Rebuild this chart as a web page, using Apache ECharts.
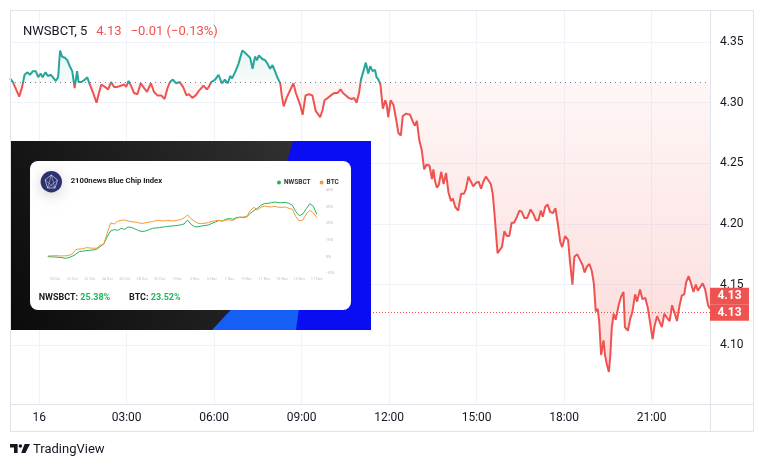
<!DOCTYPE html>
<html>
<head>
<meta charset="utf-8">
<script src="https://cdn.jsdelivr.net/npm/echarts@6/dist/echarts.min.js"></script>
<style>
  html, body { margin: 0; padding: 0; background: #fff; }
  #chart { width: 757px; height: 457px; }
</style>
</head>
<body>
<div id="chart"></div>
<script>
// NWSBCT 5-minute bars, minutes from midnight of the 16th
const minutes = [
  -60, -54, -41, -35, -30, -24, -19, -13, -7, -2,
  3, 7, 13, 18, 24, 28, 34, 39, 43, 47,
  53, 58, 63, 68, 73, 78, 81, 87, 94, 99,
  104, 111, 118, 123, 128, 135, 142, 148, 154, 161,
  168, 175, 179, 184, 190, 195, 202, 209, 216, 222,
  230, 236, 243, 251, 258, 264, 269, 275, 282, 289,
  296, 303, 308, 315, 322, 329, 338, 345, 349, 354,
  362, 369, 376, 382, 388, 393, 397, 404, 410, 415,
  418, 424, 429, 434, 439, 444, 448, 452, 459, 465,
  470, 475, 480, 485, 491, 496, 499, 503, 509, 516,
  523, 528, 537, 542, 548, 555, 562, 569, 573, 578,
  583, 587, 594, 600, 607, 614, 620, 625, 631, 636,
  643, 648, 653, 658, 662, 667, 672, 677, 681, 686,
  691, 694, 698, 702, 707, 712, 715, 718, 723, 729,
  734, 739, 744, 748, 755, 763, 769, 773, 777, 782,
  787, 792, 797, 803, 808, 811, 814, 818, 822, 827,
  832, 837, 842, 847, 851, 856, 862, 868, 874, 878,
  883, 888, 893, 899, 904, 909, 914, 919, 924, 929,
  933, 937, 940, 943, 947, 952, 957, 962, 967, 972,
  977, 983, 988, 993, 998, 1004, 1011, 1017, 1022, 1027,
  1032, 1036, 1041, 1046, 1051, 1057, 1062, 1067, 1072, 1076,
  1082, 1088, 1092, 1097, 1101, 1107, 1113, 1118, 1122, 1127,
  1132, 1137, 1141, 1145, 1149, 1152, 1156, 1161, 1164, 1168,
  1172, 1175, 1178, 1182, 1186, 1192, 1197, 1202, 1205, 1211,
  1216, 1220, 1226, 1230, 1236, 1241, 1247, 1252, 1257, 1262,
  1266, 1271, 1275, 1281, 1286, 1291, 1297, 1302, 1306, 1312,
  1317, 1322, 1327, 1331, 1336, 1341, 1346, 1351, 1355, 1360,
  1365, 1370, 1376, 1380
];
const prices = [
  4.320, 4.317, 4.305, 4.313, 4.323, 4.325, 4.323, 4.326, 4.326, 4.321,
  4.324, 4.321, 4.325, 4.322, 4.323, 4.321, 4.318, 4.321, 4.343, 4.338,
  4.337, 4.335, 4.330, 4.326, 4.312, 4.326, 4.317, 4.317, 4.319, 4.321,
  4.315, 4.308, 4.300, 4.308, 4.315, 4.313, 4.311, 4.317, 4.313, 4.313,
  4.314, 4.315, 4.313, 4.318, 4.313, 4.308, 4.307, 4.316, 4.312, 4.309,
  4.316, 4.309, 4.306, 4.306, 4.303, 4.312, 4.317, 4.319, 4.316, 4.317,
  4.313, 4.306, 4.307, 4.304, 4.306, 4.310, 4.314, 4.311, 4.313, 4.317,
  4.319, 4.323, 4.316, 4.319, 4.316, 4.322, 4.320, 4.326, 4.332, 4.339,
  4.343, 4.341, 4.339, 4.337, 4.328, 4.338, 4.335, 4.339, 4.336, 4.335,
  4.332, 4.328, 4.331, 4.326, 4.320, 4.316, 4.306, 4.297, 4.304, 4.310,
  4.316, 4.308, 4.298, 4.290, 4.306, 4.307, 4.306, 4.293, 4.291, 4.288,
  4.294, 4.302, 4.304, 4.306, 4.308, 4.308, 4.311, 4.308, 4.306, 4.304,
  4.303, 4.304, 4.300, 4.308, 4.319, 4.326, 4.333, 4.324, 4.330, 4.326,
  4.327, 4.321, 4.319, 4.315, 4.295, 4.302, 4.298, 4.288, 4.302, 4.298,
  4.287, 4.275, 4.273, 4.289, 4.291, 4.290, 4.284, 4.281, 4.285, 4.269,
  4.261, 4.245, 4.249, 4.248, 4.237, 4.245, 4.236, 4.230, 4.232, 4.243,
  4.233, 4.242, 4.226, 4.219, 4.221, 4.214, 4.211, 4.225, 4.225, 4.229,
  4.239, 4.235, 4.231, 4.234, 4.235, 4.229, 4.235, 4.239, 4.236, 4.233,
  4.225, 4.207, 4.191, 4.176, 4.175, 4.181, 4.194, 4.190, 4.190, 4.201,
  4.201, 4.206, 4.211, 4.210, 4.205, 4.205, 4.212, 4.208, 4.203, 4.203,
  4.211, 4.206, 4.214, 4.216, 4.210, 4.209, 4.213, 4.200, 4.185, 4.181,
  4.190, 4.187, 4.169, 4.150, 4.173, 4.175, 4.170, 4.166, 4.160, 4.165,
  4.167, 4.161, 4.151, 4.128, 4.130, 4.120, 4.092, 4.104, 4.092, 4.084,
  4.078, 4.092, 4.115, 4.126, 4.121, 4.133, 4.140, 4.144, 4.115, 4.112,
  4.122, 4.127, 4.142, 4.136, 4.146, 4.138, 4.139, 4.131, 4.118, 4.105,
  4.116, 4.124, 4.125, 4.115, 4.126, 4.123, 4.120, 4.133, 4.128, 4.120,
  4.132, 4.141, 4.142, 4.152, 4.157, 4.151, 4.144, 4.150, 4.145, 4.148,
  4.151, 4.146, 4.133, 4.130
];
const baseValue = 4.3165;
const priceLine = 4.127;
const lastLabel = '4.13';
const yTicks = [4.10, 4.15, 4.20, 4.25, 4.30, 4.35];
const xTicks = [0, 180, 360, 540, 720, 900, 1080, 1260];
const xTickLabels = ['16', '03:00', '06:00', '09:00', '12:00', '15:00', '18:00', '21:00'];

// inset screenshot: 2100news Blue Chip Index, % change
const miniNwsbct = [
  0, -0.1, -0.2, -0.4, -0.6, -1.0, -0.6, 0.2, 1.4, 3.0,
  3.3, 3.6, 3.8, 4.0, 4.4, 6.0, 7.6, 12.0, 15.4, 16.2,
  15.8, 17.0, 16.4, 17.8, 17.5, 16.6, 15.6, 15.1, 15.4, 16.2,
  17.0, 17.2, 17.5, 17.8, 18.1, 18.3, 18.5, 18.7, 19.1, 19.6,
  22.0, 19.4, 18.0, 17.9, 18.4, 18.7, 19.0, 20.0, 20.8, 21.7,
  21.4, 22.4, 22.9, 22.4, 23.5, 23.7, 23.4, 24.0, 26.0, 27.6,
  29.0, 30.8, 31.8, 32.0, 32.4, 32.8, 32.4, 32.4, 32.6, 32.0,
  30.8, 27.0, 24.6, 25.6, 28.8, 31.8, 30.2, 25.4
];
const miniBtc = [
  0.4, 0.5, 0.6, 0.5, 0.4, 0.5, 0.7, 1.6, 4.2, 4.6,
  4.7, 5.4, 5.2, 5.0, 5.1, 6.8, 7.4, 14.0, 20.2, 19.6,
  21.2, 21.8, 22.0, 21.4, 21.0, 20.7, 20.3, 19.9, 20.4, 20.7,
  21.0, 21.6, 21.6, 21.4, 21.7, 21.6, 21.4, 21.8, 22.3, 23.2,
  25.0, 22.8, 21.2, 20.0, 19.8, 20.1, 20.4, 21.2, 21.6, 21.8,
  21.4, 22.0, 22.1, 21.8, 23.0, 23.6, 23.8, 24.3, 27.8, 29.6,
  28.0, 29.6, 30.4, 30.0, 29.8, 30.2, 29.6, 29.6, 29.8, 29.0,
  28.4, 24.0, 21.4, 22.0, 25.6, 27.8, 26.2, 23.5
];
const miniDateTicks = [2, 4, 6, 8, 10, 12, 14, 16, 18, 20, 22, 24, 26, 28, 30, 32];
const miniDateLabels = ['18 Oct', '20 Oct', '22 Oct', '24 Oct', '26 Oct', '28 Oct', '30 Oct', '1 Nov',
  '3 Nov', '5 Nov', '7 Nov', '9 Nov', '11 Nov', '13 Nov', '15 Nov', '17 Nov'];
const miniTotals = { NWSBCT: '25.38%', BTC: '23.52%' };

const UP = '#26a69a';
const DOWN = '#ef5350';
const FONT = 'Roboto, "Liberation Sans", sans-serif';

const mainData = minutes.map((m, i) => [m, prices[i]]);
const miniDays = miniNwsbct.map((_, i) => +(1.2 + i * 0.4).toFixed(1));

// gradient stops in the area's own box: top = max price, bottom = min price
const pMax = Math.max(...prices, baseValue);
const pMin = Math.min(...prices, baseValue);
const baseOff = (pMax - baseValue) / (pMax - pMin);

const chart = echarts.init(document.getElementById('chart'), null, { renderer: 'canvas' });

chart.setOption({
  backgroundColor: '#ffffff',
  animation: false,
  textStyle: { fontFamily: FONT },
  title: {
    left: 18, top: 18,
    text: '{s|NWSBCT, 5}  {r|4.13}  {r|\u22120.01 (\u22120.13%)}',
    textStyle: {
      fontWeight: 'normal',
      rich: {
        s: { fontSize: 13, color: '#131722', fontFamily: FONT, fontWeight: 'normal' },
        r: { fontSize: 13, color: DOWN, fontFamily: FONT, fontWeight: 'normal' },
      },
    },
  },
  legend: {
    data: ['NWSBCT', 'BTC'],
    left: 277, top: 179,
    icon: 'circle', itemWidth: 4, itemHeight: 4, itemGap: 9, padding: 0,
    textStyle: { fontSize: 6.5, fontWeight: 'bold', color: '#333', padding: [0, 0, 0, -2] },
    z: 120,
  },
  visualMap: {
    show: false, type: 'piecewise', seriesIndex: 0, dimension: 1,
    pieces: [
      { gt: baseValue, lte: 10, color: UP },
      { gt: 0, lte: baseValue, color: DOWN },
    ],
  },
  grid: [
    { left: 10, right: 47, top: 10, bottom: 53 },
    { left: 47.8, top: 190, width: 269, height: 83.3, z: 110 },
  ],
  xAxis: [
    {
      type: 'value', min: -60, max: 1380,
      axisLine: { show: false },
      axisTick: { show: false, customValues: xTicks },
      axisLabel: {
        customValues: xTicks, margin: 8, fontSize: 12, color: '#131722',
        formatter: v => xTickLabels[xTicks.indexOf(v)] ?? '',
      },
      splitLine: { show: true, lineStyle: { color: '#f0f3fa' } },
    },
    {
      type: 'value', gridIndex: 1, min: 1.2, max: 32, z: 110,
      axisLine: { show: false },
      axisTick: { show: false, customValues: miniDateTicks },
      axisLabel: {
        customValues: miniDateTicks, margin: 4, fontSize: 3.8, color: '#c4c4c4',
        formatter: v => miniDateLabels[miniDateTicks.indexOf(v)] ?? '',
      },
      splitLine: { show: false },
    },
  ],
  yAxis: [
    {
      type: 'value', position: 'right', min: 4.0516, max: 4.3764,
      axisLine: { show: false },
      axisTick: { show: false, customValues: yTicks },
      axisLabel: {
        customValues: yTicks, margin: 10, fontSize: 12, color: '#131722',
        formatter: v => v.toFixed(2),
      },
      splitLine: { show: true, lineStyle: { color: '#f0f3fa' } },
    },
    {
      type: 'value', gridIndex: 1, position: 'right', min: -10, max: 40, interval: 10, z: 110,
      axisLine: { show: false },
      axisTick: { show: false },
      axisLabel: { margin: 9, fontSize: 4, color: '#bdbdbd', formatter: '{value}%' },
      splitLine: { show: false },
    },
  ],
  series: [
    {
      name: 'NWSBCT, 5',
      type: 'line',
      data: mainData,
      showSymbol: false,
      z: 2,
      lineStyle: { width: 2 },
      areaStyle: {
        origin: baseValue,
        color: new echarts.graphic.LinearGradient(0, 0, 0, 1, [
          { offset: 0, color: 'rgba(38,166,154,0.15)' },
          { offset: Math.max(baseOff - 0.001, 0), color: 'rgba(38,166,154,0.06)' },
          { offset: baseOff, color: 'rgba(239,83,80,0.07)' },
          { offset: 1, color: 'rgba(239,83,80,0.3)' },
        ]),
      },
      markLine: {
        silent: true, symbol: 'none', precision: 4, label: { show: false },
        data: [
          { yAxis: baseValue, lineStyle: { color: '#787b86', type: [1, 4], width: 1 } },
          { yAxis: priceLine, lineStyle: { color: DOWN, type: [1, 2], width: 1 } },
        ],
      },
    },
    {
      name: 'NWSBCT', type: 'line', xAxisIndex: 1, yAxisIndex: 1, z: 110,
      data: miniDays.map((d, i) => [d, miniNwsbct[i]]),
      showSymbol: false, color: '#22b35c', lineStyle: { width: 1 },
    },
    {
      name: 'BTC', type: 'line', xAxisIndex: 1, yAxisIndex: 1, z: 111,
      data: miniDays.map((d, i) => [d, miniBtc[i]]),
      showSymbol: false, color: '#f39a35', lineStyle: { width: 1 },
    },
  ],
});

// price labels on the right scale
const xEnd = chart.convertToPixel({ xAxisIndex: 0 }, 1380);
const yLine = chart.convertToPixel({ yAxisIndex: 0 }, priceLine);
const boxH = 16.6;

const tvLogo = '#131722';
chart.setOption({
  graphic: [
    // frame of the chart pane
    { type: 'rect', shape: { x: 10.5, y: 10.5, width: 743, height: 421 }, style: { fill: 'none', stroke: '#e0e3eb', lineWidth: 1 }, z: 90 },
    { type: 'line', shape: { x1: 10, y1: 404.5, x2: 754, y2: 404.5 }, style: { stroke: '#e0e3eb', lineWidth: 1 }, z: 90 },
    { type: 'line', shape: { x1: 710.5, y1: 10, x2: 710.5, y2: 432 }, style: { stroke: '#e0e3eb', lineWidth: 1 }, z: 90 },
    // last price labels
    { type: 'rect', shape: { x: xEnd, y: yLine - boxH * 1.5, width: 39, height: boxH }, style: { fill: DOWN }, z: 95 },
    { type: 'text', x: xEnd + 19.5, y: yLine - boxH, style: { text: lastLabel, fill: '#fff', font: 'bold 12px ' + FONT, align: 'center', verticalAlign: 'middle' }, z: 96 },
    { type: 'rect', shape: { x: xEnd, y: yLine - boxH / 2, width: 39, height: boxH }, style: { fill: DOWN }, z: 95 },
    { type: 'text', x: xEnd + 19.5, y: yLine, style: { text: lastLabel, fill: '#fff', font: 'bold 12px ' + FONT, align: 'center', verticalAlign: 'middle' }, z: 96 },
    // inset screenshot
    {
      type: 'rect', shape: { x: 11, y: 141, width: 360, height: 189 }, z: 100,
      style: { fill: new echarts.graphic.LinearGradient(0, 1, 1, 0, [{ offset: 0, color: '#0b0b0b' }, { offset: 0.7, color: '#2a2a2a' }, { offset: 1, color: '#3a3a3a' }]) },
    },
    {
      type: 'polygon', z: 100,
      shape: { points: [[293, 141], [371, 141], [371, 330], [212, 330], [240, 300], [283, 200], [287, 162]] },
      style: { fill: '#0a0cf2' },
    },
    {
      type: 'polygon', z: 100,
      shape: { points: [[212, 330], [296, 330], [300, 300], [240, 300]] },
      style: { fill: '#155ff4' },
    },
    { type: 'rect', shape: { x: 30, y: 161, width: 321, height: 149, r: 8 }, style: { fill: '#ffffff' }, z: 101 },
    { type: 'circle', shape: { cx: 51.3, cy: 181.7, r: 10.7 }, style: { fill: '#2c3170', shadowBlur: 14, shadowColor: 'rgba(0,0,0,0.18)', shadowOffsetY: 3 }, z: 102 },
    { type: 'polygon', shape: { points: [[51.3, 175], [57.5, 180], [55, 188], [47.6, 188], [45.1, 180]] }, style: { fill: 'none', stroke: 'rgba(255,255,255,0.85)', lineWidth: 0.7 }, z: 103 },
    { type: 'polyline', shape: { points: [[47.6, 188], [51.3, 175], [55, 188]] }, style: { fill: 'none', stroke: 'rgba(255,255,255,0.7)', lineWidth: 0.6 }, z: 103 },
    { type: 'polyline', shape: { points: [[45.1, 180], [55, 188]] }, style: { fill: 'none', stroke: 'rgba(255,255,255,0.6)', lineWidth: 0.6 }, z: 103 },
    { type: 'polyline', shape: { points: [[57.5, 180], [47.6, 188]] }, style: { fill: 'none', stroke: 'rgba(255,255,255,0.6)', lineWidth: 0.6 }, z: 103 },
    { type: 'text', x: 70.7, y: 181.5, style: { text: '2100news Blue Chip Index', fill: '#1a1a1a', font: 'bold 7.7px ' + FONT, verticalAlign: 'middle' }, z: 103 },
    {
      type: 'text', x: 38.7, y: 297.7, z: 103,
      style: {
        text: '{k|NWSBCT: }{g|' + miniTotals.NWSBCT + '}', verticalAlign: 'middle',
        rich: { k: { fill: '#1a1a1a', font: 'bold 9px ' + FONT }, g: { fill: '#22b35c', font: 'bold 9px ' + FONT } },
      },
    },
    {
      type: 'text', x: 129, y: 297.7, z: 103,
      style: {
        text: '{k|BTC: }{g|' + miniTotals.BTC + '}', verticalAlign: 'middle',
        rich: { k: { fill: '#1a1a1a', font: 'bold 9px ' + FONT }, g: { fill: '#22b35c', font: 'bold 9px ' + FONT } },
      },
    },
    // TradingView attribution
    { type: 'polygon', shape: { points: [[10, 444], [17.6, 444], [17.6, 453], [14, 453], [14, 447.6], [10, 447.6]] }, style: { fill: tvLogo } },
    { type: 'circle', shape: { cx: 20.4, cy: 446, r: 1.8 }, style: { fill: tvLogo } },
    { type: 'polygon', shape: { points: [[24.6, 444], [30, 444], [25.4, 453], [21.2, 453]] }, style: { fill: tvLogo } },
    { type: 'text', x: 33, y: 449.5, style: { text: 'TradingView', fill: tvLogo, font: '13px ' + FONT, verticalAlign: 'middle' } },
  ],
});
</script>
</body>
</html>
